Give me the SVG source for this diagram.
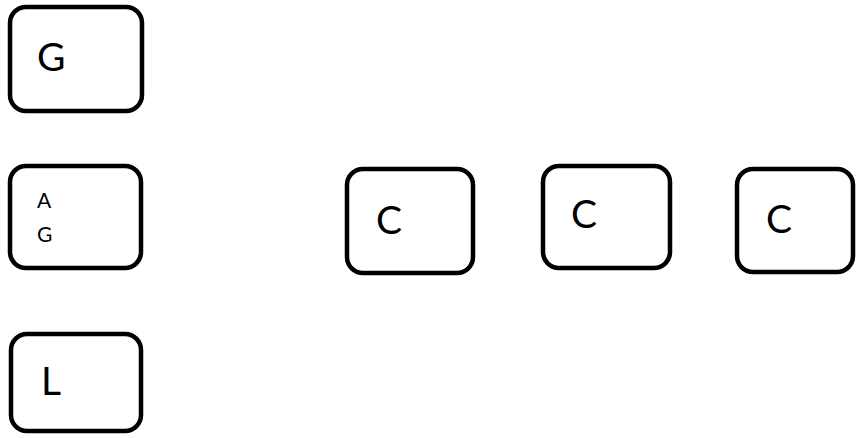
<svg xmlns="http://www.w3.org/2000/svg" width="857" height="438" viewBox="0 0 857 438">
<style>
.box{fill:#fff;stroke:#000;stroke-width:4.5}
.t{font-family:Lato,"Open Sans",sans-serif;fill:#000}
.big{font-size:39px}
.small{font-size:21px}
</style>
<rect width="857" height="438" fill="#fff"/>
<g id="connectors"></g>
<g id="node-g">
<rect class="box" x="10" y="7" width="132" height="104" rx="16"/>
<text class="t big" x="37" y="71">G</text>
</g>
<g id="node-ag">
<rect class="box" x="10" y="166" width="131" height="102" rx="16"/>
<text class="t small" x="37" y="208">A</text>
<text class="t small" x="37" y="242">G</text>
</g>
<g id="node-l">
<rect class="box" x="11" y="334" width="130" height="97" rx="16"/>
<text class="t big" x="41" y="395">L</text>
</g>
<g id="node-c1">
<rect class="box" x="347" y="169" width="126" height="104" rx="16"/>
<text class="t big" x="376" y="234">C</text>
</g>
<g id="node-c2">
<rect class="box" x="543" y="166" width="127" height="102" rx="16"/>
<text class="t big" x="571" y="228">C</text>
</g>
<g id="node-c3">
<rect class="box" x="737" y="169" width="116" height="103" rx="16"/>
<text class="t big" x="766" y="233">C</text>
</g>
</svg>
